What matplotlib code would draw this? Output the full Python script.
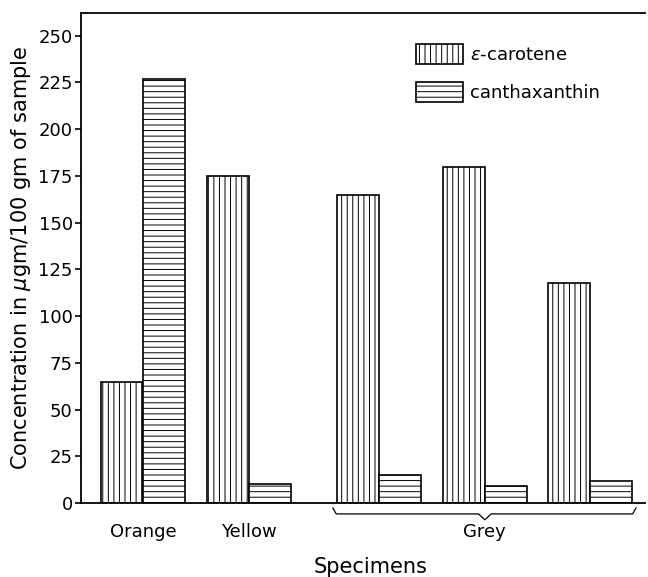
import matplotlib.pyplot as plt
import numpy as np

specimens = ['Orange', 'Yellow', 'Grey', 'Grey', 'Grey']
carotene = [65, 175, 165, 180, 118]
canthaxanthin = [227, 10, 15, 9, 12]
yticks = [0, 25, 50, 75, 100, 125, 150, 175, 200, 225, 250]

# layout: centre of each pair of bars (bar width = 1)
pos = np.array([1.48, 4.0, 7.1, 9.62, 12.12])

plt.rcParams['hatch.linewidth'] = 0.7
plt.rcParams['font.family'] = 'DejaVu Sans'

fig = plt.figure(figsize=(6.48, 5.77), dpi=100)
ax = fig.add_axes([0.125, 0.128, 0.87, 0.849])

ax.bar(pos - 0.5, carotene, width=1, color='white', edgecolor='black',
       hatch='|||', linewidth=1.2, label=r'$\epsilon$-carotene')
ax.bar(pos + 0.5, canthaxanthin, width=1, color='white', edgecolor='black',
       hatch='---', linewidth=1.2, label='canthaxanthin')

ax.set_xlim(0, 13.43)
ax.set_ylim(0, 262)
ax.set_yticks(yticks)
ax.tick_params(axis='y', direction='out', length=4, width=1.2, labelsize=13, pad=2)

ax.set_xticks([pos[0], pos[1], pos[3]])
ax.set_xticklabels(['Orange', 'Yellow', 'Grey'], fontsize=13)
ax.tick_params(axis='x', length=0, pad=14)

ax.spines['right'].set_visible(False)
for s in ['left', 'top', 'bottom']:
    ax.spines[s].set_linewidth(1.3)

# brace under the grey specimens
x0 = pos[2] - 1.1
x1 = pos[4] + 1.1
xm = pos[3]
trans = ax.get_xaxis_transform()
bx = [x0, x0 + 0.08, xm - 0.15, xm, xm + 0.15, x1 - 0.08, x1]
by = [-0.01, -0.022, -0.022, -0.034, -0.022, -0.022, -0.01]
ax.plot(bx, by, color='black', lw=0.9, transform=trans, clip_on=False)

ax.set_ylabel(r'Concentration in $\mu$gm/100 gm of sample', fontsize=15, labelpad=4)
fig.text(0.572, 0.0, 'Specimens', fontsize=15, ha='center', va='bottom')

ax.legend(loc='upper right', bbox_to_anchor=(0.95, 0.97), frameon=False,
          fontsize=13, handlelength=2.6, handleheight=1.3, labelspacing=1.0,
          handletextpad=0.4)

fig.savefig('out.png', dpi=100)
plt.close(fig)
